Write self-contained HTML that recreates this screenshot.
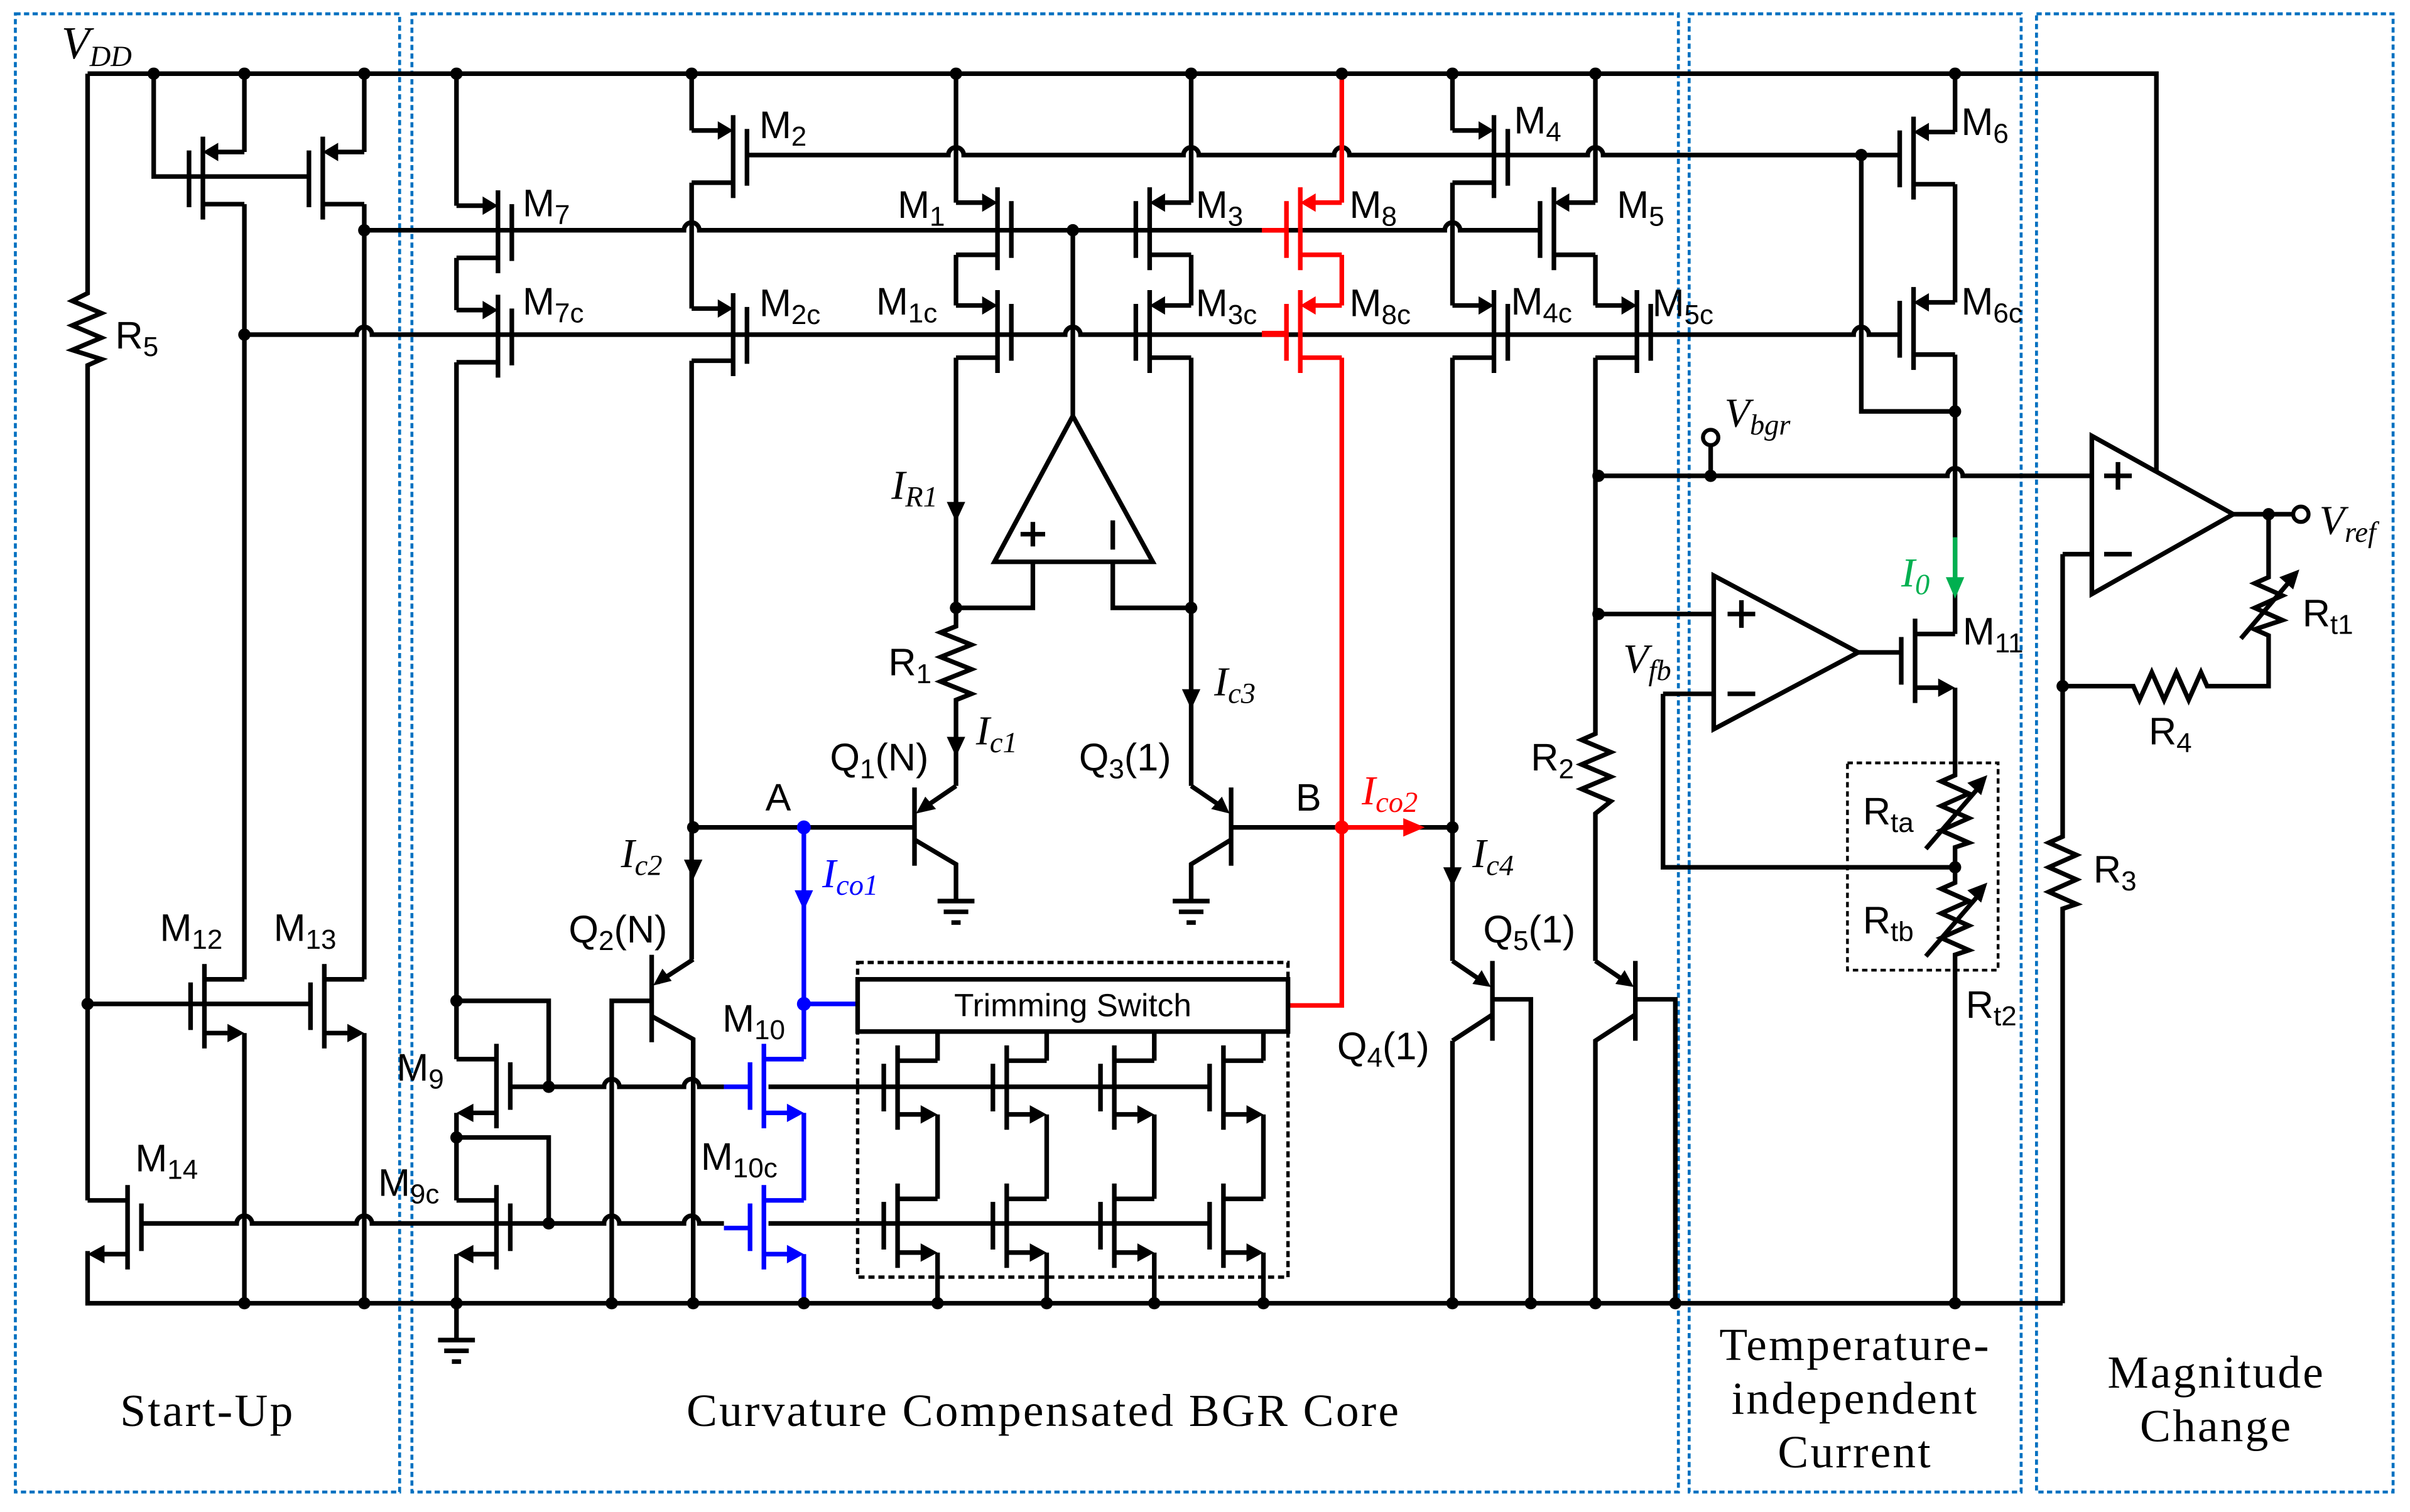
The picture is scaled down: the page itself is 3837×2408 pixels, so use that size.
<!DOCTYPE html>
<html><head><meta charset="utf-8"><style>
html,body{margin:0;padding:0;background:#fff}
svg{display:block}
.w{fill:none;stroke:#000;stroke-width:3;stroke-linejoin:miter;stroke-linecap:butt}
.r{fill:none;stroke:#f00;stroke-width:3}
.b{fill:none;stroke:#00f;stroke-width:3}
.fr{fill:none;stroke:#0070c0;stroke-width:1.9;stroke-dasharray:3.4 2.2}
.l{font-family:"Liberation Sans",Arial,sans-serif;font-size:25px}
.s{font-size:18px}
.i{font-family:"Liberation Serif",serif;font-style:italic;font-size:27px}
.si{font-size:19px}
.t{font-family:"Liberation Serif",serif;font-size:30px;letter-spacing:1.3px}
</style></head><body>
<svg width="3837" height="2408" viewBox="0 0 1568 985" preserveAspectRatio="none" xmlns="http://www.w3.org/2000/svg" xmlns:xlink="http://www.w3.org/1999/xlink">
<defs>
<g id="pR"><path class="w" d="M0 0H18M27 -10V44M36 -1V36M27 34H0"/><polygon points="27,0 17,-6 17,6"/></g>
<g id="pL"><path class="w" d="M0 0H-18M-27 -10V44M-36 -1V36M-27 34H0"/><polygon points="-27,0 -17,-6 -17,6"/></g>
<g id="pLr"><path class="r" d="M0 0H-18M-27 -10V44M-36 -1V36M-27 34H0M-36 18H-52"/><polygon fill="#f00" points="-27,0 -17,-6 -17,6"/></g>
<g id="nL"><path class="w" d="M0 0H-26M-26 -10V45M-35 2V33M-26 35H-10"/><polygon points="0,35 -11,29 -11,41"/></g>
<g id="nLb"><path class="b" d="M0 0H-26M-26 -10V45M-35 2V33M-26 35H-10M-35 18H-52"/><polygon fill="#00f" points="0,35 -11,29 -11,41"/></g>
<g id="nR"><path class="w" d="M0 0H26M26 -10V45M35 2V33M26 35H10"/><polygon points="0,35 11,29 11,41"/></g>
<g id="gnd"><path class="w" d="M-12 0H12M-8 7H8M-3 14H3"/></g>
</defs>

<rect class="fr" x="10" y="9" width="250" height="963"/>
<rect class="fr" x="268" y="9" width="824" height="963"/>
<rect class="fr" x="1099" y="9" width="216" height="963"/>
<rect class="fr" x="1325" y="9" width="232" height="963"/>

<path class="w" d="M57 48H1403V307"/>
<path class="w" d="M57 48V191L47 196L66 204L47 212L66 220L47 228L66 234L57 238V782M57 815V849H1342"/>
<path class="w" d="M100 48V115H201"/>
<use xlink:href="#pL" x="159" y="99"/><use xlink:href="#pL" x="237" y="99"/>
<path class="w" d="M159 48V99M159 133V638M237 48V99M237 133V638M159 673V849M237 673V849"/>
<use xlink:href="#nL" x="159" y="638"/><use xlink:href="#nL" x="237" y="638"/>
<path class="w" d="M57 654H202"/>
<use xlink:href="#nR" x="57" y="782"/>
<path class="w" d="M237 150H445A5 5 0 0 1 455 150H940A5 5 0 0 1 950 150H1002"/>
<path class="w" d="M159 218H232A5 5 0 0 1 242 218H693A5 5 0 0 1 703 218H1206A5 5 0 0 1 1216 218H1236"/>
<path class="w" d="M486 101H617A5 5 0 0 1 627 101H770A5 5 0 0 1 780 101H868A5 5 0 0 1 878 101H1033A5 5 0 0 1 1043 101H1237"/>
<path class="r" d="M821 150H838M821 218H838"/>
<use xlink:href="#pR" x="297" y="134"/><use xlink:href="#pR" x="297" y="202"/>
<use xlink:href="#pR" x="450" y="85"/><use xlink:href="#pR" x="450" y="201"/>
<use xlink:href="#pR" x="622" y="132"/><use xlink:href="#pR" x="622" y="199"/>
<use xlink:href="#pL" x="775" y="132"/><use xlink:href="#pL" x="775" y="199"/>
<use xlink:href="#pLr" x="873" y="132"/><use xlink:href="#pLr" x="873" y="199"/>
<use xlink:href="#pR" x="945" y="85"/><use xlink:href="#pR" x="945" y="199"/>
<use xlink:href="#pL" x="1038" y="132"/><use xlink:href="#pR" x="1038" y="199"/>
<use xlink:href="#pL" x="1272" y="86"/><use xlink:href="#pL" x="1272" y="197"/>
<path class="w" d="M297 48V134M297 168V202M297 236V690M297 725V782M297 817V872"/>
<path class="w" d="M450 48V85M450 119V201M450 235V625"/>
<path class="w" d="M622 48V132M622 166V199M622 233V408L612 412L632 420L612 428L632 436L612 444L632 452L622 456V512"/>
<path class="w" d="M775 48V132M775 166V199M775 233V512"/>
<path class="r" d="M873 48V132M873 166V199M873 233V655H838"/>
<path class="w" d="M945 48V85M945 119V199M945 233V626M945 678V849"/>
<path class="w" d="M1038 48V132M1038 166V199M1038 233V478L1029 482L1048 490L1029 498L1048 506L1029 514L1048 522L1038 530V626"/>
<path class="w" d="M1272 48V86M1272 120V197M1272 231V413"/>
<path class="w" d="M1211 101V268H1272"/>
<polygon class="w" points="698,271 647,366 750,366"/>
<path class="w" d="M698 271V150M672 366V396H622M724 366V396H775M664 348H680M672 340V356M724 339V358"/>
<path class="w" d="M595 513V564M622 512L600 527M595 547L622 563V586M451 539H595"/>
<polygon points="596,530 602,519 609,527"/>
<path class="w" d="M801 513V564M775 512L797 527M801 547L775 563V586M801 539H945"/>
<polygon points="800,530 788,527 795,519"/>
<use xlink:href="#gnd" x="622" y="587"/><use xlink:href="#gnd" x="775" y="587"/><use xlink:href="#gnd" x="297" y="873"/>
<path class="w" d="M424 622V679M451 625L428 640M424 662L451 677V849M424 652H398V849"/>
<polygon points="425,642 431,631 437,639"/>
<path class="w" d="M971 626V678M945 626L967 641M971 661L945 678M971 651H996V849"/>
<polygon points="970,643 958,641 964,632"/>
<path class="w" d="M1064 626V678M1038 626L1060 641M1064 661L1038 678V849M1064 651H1090V849"/>
<polygon points="1063,643 1051,641 1057,632"/>
<use xlink:href="#nR" x="297" y="690"/><use xlink:href="#nR" x="297" y="782"/>
<path class="w" d="M297 652H357V708M297 741H357V797"/>
<path class="w" d="M332 708H393A5 5 0 0 1 403 708H445A5 5 0 0 1 455 708H471M500 708H786"/>
<path class="w" d="M92 797H154A5 5 0 0 1 164 797H232A5 5 0 0 1 242 797H393A5 5 0 0 1 403 797H445A5 5 0 0 1 455 797H471M500 797H786"/>
<use xlink:href="#nLb" x="523" y="690"/><use xlink:href="#nLb" x="523" y="782"/>
<path class="b" d="M523 539V690M523 725V782M523 817V849M523 654H558"/>
<polygon fill="#00f" points="523,593 517,580 529,580"/>
<rect x="558" y="627" width="280" height="205" fill="none" stroke="#000" stroke-width="2.2" stroke-dasharray="4 2.5"/>
<rect x="558" y="638" width="280" height="34" fill="#fff" stroke="#000" stroke-width="3"/>
<text x="698" y="662" text-anchor="middle" class="l" style="font-size:21px">Trimming Switch</text>
<use xlink:href="#nL" x="610" y="691"/><use xlink:href="#nL" x="681" y="691"/><use xlink:href="#nL" x="751" y="691"/><use xlink:href="#nL" x="822" y="691"/>
<use xlink:href="#nL" x="610" y="781"/><use xlink:href="#nL" x="681" y="781"/><use xlink:href="#nL" x="751" y="781"/><use xlink:href="#nL" x="822" y="781"/>
<path class="w" d="M610 672V691M610 726V781M610 816V849M681 672V691M681 726V781M681 816V849M751 672V691M751 726V781M751 816V849M822 672V691M822 726V781M822 816V849"/>
<path class="r" d="M873 539H915"/><polygon fill="#f00" points="927,539 913,533 913,545"/>
<polygon points="622,340 616,327 628,327"/>
<polygon points="622,493 616,480 628,480"/>
<polygon points="775,462 769,449 781,449"/>
<polygon points="451,573 445,560 457,560"/>
<polygon points="945,578 939,565 951,565"/>
<path class="w" d="M1040 310H1267A5 5 0 0 1 1277 310H1361M1113 290V310"/>
<circle cx="1113" cy="285" r="5" fill="#fff" stroke="#000" stroke-width="2.6"/>
<polygon class="w" points="1115,375 1115,475 1209,425"/>
<path class="w" d="M1124 400H1142M1133 391V409M1124 452H1142M1040 400H1115M1082 452H1115M1082 452V565H1272M1209 425H1237"/>
<use xlink:href="#nL" x="1272" y="413"/>
<path class="w" d="M1272 448V505L1263 509L1281 517L1263 525L1281 533L1263 541L1281 549L1272 552V575L1263 579L1281 587L1263 595L1281 603L1263 611L1281 619L1272 622V849"/>
<path class="w" d="M1253 553L1290 510M1253 623L1290 580"/>
<polygon points="1293,505 1280,510 1289,518"/>
<polygon points="1293,575 1280,580 1289,588"/>
<rect x="1202" y="497" width="98" height="135" fill="none" stroke="#000" stroke-width="1.8" stroke-dasharray="3.5 2.5"/>
<path d="M1272 350V378" stroke="#00b050" stroke-width="3"/><polygon fill="#00b050" points="1272,390 1266,376 1278,376"/>
<polygon class="w" points="1361,284 1361,387 1453,335"/>
<path class="w" d="M1369 310H1387M1378 301V319M1369 361H1387M1342 361H1361M1453 335H1492"/>
<circle cx="1497" cy="335" r="5" fill="#fff" stroke="#000" stroke-width="2.6"/>
<path class="w" d="M1476 335V376L1467 380L1485 388L1467 396L1485 404L1467 410L1476 414V447H1436L1432 438L1424 456L1416 438L1408 456L1400 438L1392 456L1388 447H1342M1342 361V545L1333 549L1351 557L1333 565L1351 573L1333 581L1351 589L1342 592V849"/>
<path class="w" d="M1458 416L1492 376"/><polygon points="1496,371 1483,376 1492,384"/>
<g fill="#000">
<circle cx="100" cy="48" r="4"/><circle cx="159" cy="48" r="4"/><circle cx="237" cy="48" r="4"/><circle cx="297" cy="48" r="4"/><circle cx="450" cy="48" r="4"/><circle cx="622" cy="48" r="4"/><circle cx="775" cy="48" r="4"/><circle cx="945" cy="48" r="4"/><circle cx="1038" cy="48" r="4"/><circle cx="1272" cy="48" r="4"/>
<circle cx="237" cy="150" r="4"/><circle cx="159" cy="218" r="4"/><circle cx="698" cy="150" r="4"/><circle cx="1211" cy="101" r="4"/><circle cx="1272" cy="268" r="4"/>
<circle cx="622" cy="396" r="4"/><circle cx="775" cy="396" r="4"/><circle cx="451" cy="539" r="4"/><circle cx="945" cy="539" r="4"/>
<circle cx="1040" cy="310" r="4"/><circle cx="1113" cy="310" r="4"/><circle cx="1040" cy="400" r="4"/><circle cx="1476" cy="335" r="4"/><circle cx="1342" cy="447" r="4"/><circle cx="1272" cy="565" r="4"/>
<circle cx="57" cy="654" r="4"/><circle cx="297" cy="652" r="4"/><circle cx="357" cy="708" r="4"/><circle cx="297" cy="741" r="4"/><circle cx="357" cy="797" r="4"/>
<circle cx="159" cy="849" r="4"/><circle cx="237" cy="849" r="4"/><circle cx="297" cy="849" r="4"/><circle cx="398" cy="849" r="4"/><circle cx="451" cy="849" r="4"/><circle cx="610" cy="849" r="4"/><circle cx="681" cy="849" r="4"/><circle cx="751" cy="849" r="4"/><circle cx="822" cy="849" r="4"/><circle cx="945" cy="849" r="4"/><circle cx="996" cy="849" r="4"/><circle cx="1038" cy="849" r="4"/><circle cx="1090" cy="849" r="4"/><circle cx="1272" cy="849" r="4"/>
</g>
<circle cx="873" cy="48" r="4" fill="#000"/><circle cx="873" cy="539" r="4.5" fill="#f00"/>
<circle cx="523" cy="539" r="4.5" fill="#00f"/><circle cx="523" cy="654" r="4.5" fill="#00f"/><circle cx="523" cy="849" r="4" fill="#000"/>

<text x="40" y="38" class="i" style="font-size:30px">V<tspan class="si" dy="5">DD</tspan></text>
<text x="75" y="227" class="l">R<tspan class="s" dy="5">5</tspan></text>
<text x="340" y="141" class="l">M<tspan class="s" dy="5">7</tspan></text>
<text x="340" y="205" class="l">M<tspan class="s" dy="5">7c</tspan></text>
<text x="494" y="90" class="l">M<tspan class="s" dy="5">2</tspan></text>
<text x="494" y="206" class="l">M<tspan class="s" dy="5">2c</tspan></text>
<text x="584" y="142" class="l">M<tspan class="s" dy="5">1</tspan></text>
<text x="570" y="205" class="l">M<tspan class="s" dy="5">1c</tspan></text>
<text x="778" y="142" class="l">M<tspan class="s" dy="5">3</tspan></text>
<text x="778" y="206" class="l">M<tspan class="s" dy="5">3c</tspan></text>
<text x="878" y="142" class="l">M<tspan class="s" dy="5">8</tspan></text>
<text x="878" y="206" class="l">M<tspan class="s" dy="5">8c</tspan></text>
<text x="985" y="87" class="l">M<tspan class="s" dy="5">4</tspan></text>
<text x="983" y="205" class="l">M<tspan class="s" dy="5">4c</tspan></text>
<text x="1052" y="142" class="l">M<tspan class="s" dy="5">5</tspan></text>
<text x="1075" y="206" class="l">M<tspan class="s" dy="5">5c</tspan></text>
<text x="1276" y="88" class="l">M<tspan class="s" dy="5">6</tspan></text>
<text x="1276" y="205" class="l">M<tspan class="s" dy="5">6c</tspan></text>
<text x="580" y="325" class="i">I<tspan class="si" dy="5">R1</tspan></text>
<text x="578" y="440" class="l">R<tspan class="s" dy="5">1</tspan></text>
<text x="635" y="485" class="i">I<tspan class="si" dy="5">c1</tspan></text>
<text x="540" y="502" class="l">Q<tspan class="s" dy="5">1</tspan><tspan dy="-5">(N)</tspan></text>
<text x="702" y="502" class="l">Q<tspan class="s" dy="5">3</tspan><tspan dy="-5">(1)</tspan></text>
<text x="790" y="453" class="i">I<tspan class="si" dy="5">c3</tspan></text>
<text x="498" y="528" class="l">A</text>
<text x="843" y="528" class="l">B</text>
<text x="886" y="524" class="i" fill="#f00">I<tspan class="si" dy="5">co2</tspan></text>
<text x="404" y="565" class="i">I<tspan class="si" dy="5">c2</tspan></text>
<text x="535" y="578" class="i" fill="#00f">I<tspan class="si" dy="5">co1</tspan></text>
<text x="958" y="565" class="i">I<tspan class="si" dy="5">c4</tspan></text>
<text x="370" y="614" class="l">Q<tspan class="s" dy="5">2</tspan><tspan dy="-5">(N)</tspan></text>
<text x="965" y="614" class="l">Q<tspan class="s" dy="5">5</tspan><tspan dy="-5">(1)</tspan></text>
<text x="870" y="690" class="l">Q<tspan class="s" dy="5">4</tspan><tspan dy="-5">(1)</tspan></text>
<text x="104" y="613" class="l">M<tspan class="s" dy="5">12</tspan></text>
<text x="178" y="613" class="l">M<tspan class="s" dy="5">13</tspan></text>
<text x="88" y="763" class="l">M<tspan class="s" dy="5">14</tspan></text>
<text x="258" y="704" class="l">M<tspan class="s" dy="5">9</tspan></text>
<text x="246" y="779" class="l">M<tspan class="s" dy="5">9c</tspan></text>
<text x="470" y="672" class="l">M<tspan class="s" dy="5">10</tspan></text>
<text x="456" y="762" class="l">M<tspan class="s" dy="5">10c</tspan></text>
<text x="996" y="502" class="l">R<tspan class="s" dy="5">2</tspan></text>
<text x="1362" y="575" class="l">R<tspan class="s" dy="5">3</tspan></text>
<text x="1398" y="485" class="l">R<tspan class="s" dy="5">4</tspan></text>
<text x="1498" y="408" class="l">R<tspan class="s" dy="5">t1</tspan></text>
<text x="1212" y="537" class="l">R<tspan class="s" dy="5">ta</tspan></text>
<text x="1212" y="608" class="l">R<tspan class="s" dy="5">tb</tspan></text>
<text x="1279" y="663" class="l">R<tspan class="s" dy="5">t2</tspan></text>
<text x="1277" y="420" class="l">M<tspan class="s" dy="5">11</tspan></text>
<text x="1237" y="382" class="i" fill="#00b050">I<tspan class="si" dy="5">0</tspan></text>
<text x="1056" y="438" class="i">V<tspan class="si" dy="5">fb</tspan></text>
<text x="1122" y="278" class="i">V<tspan class="si" dy="5">bgr</tspan></text>
<text x="1509" y="348" class="i">V<tspan class="si" dy="5">ref</tspan></text>
<text x="135" y="929" text-anchor="middle" class="t">Start-Up</text>
<text x="679" y="929" text-anchor="middle" class="t">Curvature Compensated BGR Core</text>
<text x="1207" y="886" text-anchor="middle" class="t">Temperature-</text>
<text x="1207" y="921" text-anchor="middle" class="t">independent</text>
<text x="1207" y="956" text-anchor="middle" class="t">Current</text>
<text x="1442" y="904" text-anchor="middle" class="t">Magnitude</text>
<text x="1442" y="939" text-anchor="middle" class="t">Change</text>
</svg>
</body></html>
